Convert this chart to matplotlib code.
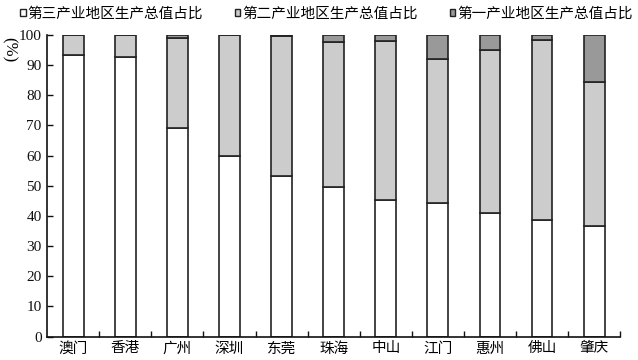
import matplotlib
matplotlib.use("Agg")
import matplotlib.pyplot as plt
import numpy as np
from matplotlib.patches import Patch

plt.rcParams['font.family'] = ['Liberation Serif', 'Noto Sans CJK SC', 'DejaVu Sans']

cities = ["澳门", "香港", "广州", "深圳", "东莞", "珠海", "中山", "江门", "惠州", "佛山", "肇庆"]
tertiary = [93.3, 92.7, 69.3, 60.0, 53.1, 49.5, 45.3, 44.3, 41.0, 38.5, 36.6]
secondary = [6.7, 7.3, 29.6, 39.9, 46.6, 48.3, 52.7, 47.8, 53.9, 59.9, 47.9]
primary = [0.0, 0.0, 1.1, 0.1, 0.3, 2.2, 2.0, 7.9, 5.1, 1.6, 15.5]
series_names = ["第三产业地区生产总值占比", "第二产业地区生产总值占比", "第一产业地区生产总值占比"]
colors = ["#ffffff", "#cccccc", "#999999"]
yticks = [0, 10, 20, 30, 40, 50, 60, 70, 80, 90, 100]

fig = plt.figure(figsize=(6.38, 3.6), dpi=100)
ax = fig.add_axes([0.074, 0.065, 0.898, 0.838])

x = np.arange(len(cities))
w = 0.4
edge = "#222222"
ax.bar(x, tertiary, w, color=colors[0], edgecolor=edge, linewidth=1.2)
ax.bar(x, secondary, w, bottom=tertiary, color=colors[1], edgecolor=edge, linewidth=1.2)
bottom3 = np.array(tertiary) + np.array(secondary)
ax.bar(x, primary, w, bottom=bottom3, color=colors[2], edgecolor=edge, linewidth=1.2)

ax.set_xlim(-0.5, len(cities) - 0.5)
ax.set_ylim(0, 100)
ax.set_yticks(yticks)
ax.tick_params(axis='y', direction='in', length=4, width=1, labelsize=11, pad=4, colors='#111111')
ax.set_xticks(x)
ax.set_xticklabels(cities, fontsize=10.5)
ax.tick_params(axis='x', length=0, pad=4)
ax.set_xticks(np.arange(len(cities)) + 0.5, minor=True)
ax.tick_params(axis='x', which='minor', direction='in', length=4, width=1, color='#111111')

for s in ['top', 'right']:
    ax.spines[s].set_visible(False)
for s in ['left', 'bottom']:
    ax.spines[s].set_linewidth(1.2)
    ax.spines[s].set_color('#111111')

fig.text(0.014, 0.862, "(%)", rotation=270, fontsize=12, ha='center', va='center')

handles = [Patch(facecolor=c, edgecolor=edge, linewidth=1) for c in colors]
fig.legend(handles, series_names, loc='center left', bbox_to_anchor=(0.031, 0.961),
           ncol=3, frameon=False, fontsize=10.5, handlelength=0.4, handleheight=0.4,
           handletextpad=0.15, columnspacing=2.15, borderaxespad=0, borderpad=0)

fig.savefig("out.png", dpi=100)
